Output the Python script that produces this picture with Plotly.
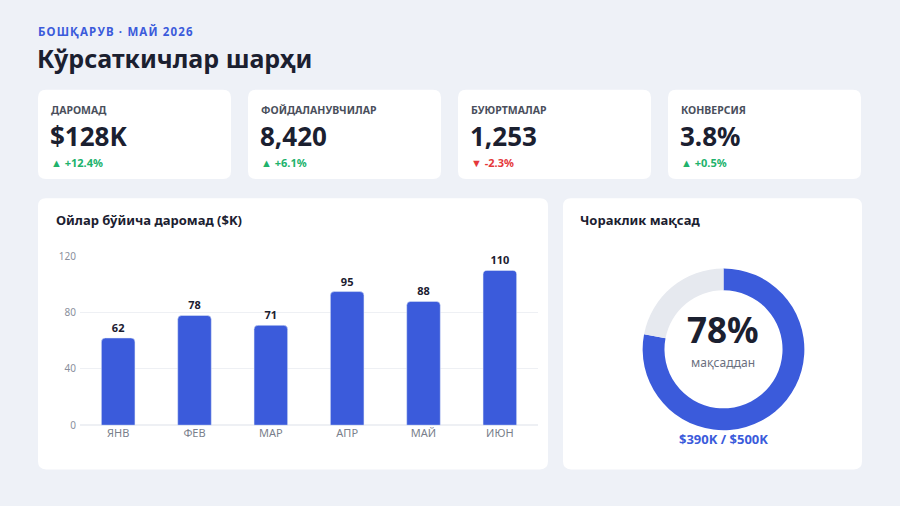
import plotly.graph_objects as go

W, H = 900, 489
OFF, SY = 7.7, 0.967  # observed vertical placement of the page in the photo

# ---- data ----
months = ["ЯНВ", "ФЕВ", "МАР", "АПР", "МАЙ", "ИЮН"]
revenue = [62, 78, 71, 95, 88, 110]
y_ticks = [0, 40, 80, 120]

kpi_labels = ["ДАРОМАД", "ФОЙДАЛАНУВЧИЛАР", "БУЮРТМАЛАР", "КОНВЕРСИЯ"]
kpi_values = ["$128K", "8,420", "1,253", "3.8%"]
kpi_deltas = ["▲ +12.4%", "▲ +6.1%", "▼ -2.3%", "▲ +0.5%"]
kpi_up = [True, True, False, True]

goal_done = 390
goal_total = 500
goal_pct = 78

BLUE = "#3B5BDB"
DARK = "#1B2030"
GRAY = "#6B7080"
GREEN = "#20B26B"
RED = "#E5383B"
BG = "#EEF1F7"
FONT = "Noto Sans"


def px(x):
    return x / W


def py(y):
    return 1 - ((y - OFF) / SY) / H


def rrect(x0, y0, x1, y1, r):
    X0, X1 = px(x0), px(x1)
    Y0, Y1 = py(y0), py(y1)
    rx, ry = r / W, r / SY / H
    return (f"M {X0+rx},{Y0} L {X1-rx},{Y0} Q {X1},{Y0} {X1},{Y0-ry} "
            f"L {X1},{Y1+ry} Q {X1},{Y1} {X1-rx},{Y1} "
            f"L {X0+rx},{Y1} Q {X0},{Y1} {X0},{Y1+ry} "
            f"L {X0},{Y0-ry} Q {X0},{Y0} {X0+rx},{Y0} Z")


fig = go.Figure()

fig.add_trace(go.Bar(
    x=months, y=revenue,
    marker=dict(color=BLUE, cornerradius=4),
    width=0.44,
    text=[str(v) for v in revenue], textposition="outside",
    textfont=dict(family=FONT, size=11, color=DARK, weight="bold"),
    cliponaxis=False, hoverinfo="skip", xaxis="x", yaxis="y",
))

fig.add_trace(go.Pie(
    values=[goal_done, goal_total - goal_done],
    marker=dict(colors=[BLUE, "#E6E9EF"]),
    hole=0.73, sort=False, direction="clockwise", rotation=0,
    textinfo="none", hoverinfo="skip", showlegend=False,
    domain=dict(x=[px(642), px(805)], y=[py(428), py(267)]),
))

shapes = []
card_x = [38, 248, 458, 668]
for cx in card_x:
    shapes.append(dict(type="path", xref="paper", yref="paper",
                       path=rrect(cx, 89, cx + 193, 178, 8),
                       fillcolor="white", line=dict(width=0), layer="below"))
shapes.append(dict(type="path", xref="paper", yref="paper",
                   path=rrect(38, 197, 548, 467, 8),
                   fillcolor="white", line=dict(width=0), layer="below"))
shapes.append(dict(type="path", xref="paper", yref="paper",
                   path=rrect(563, 197, 862, 467, 8),
                   fillcolor="white", line=dict(width=0), layer="below"))

ann = []


def text(x, y, s, size, color, bold=False, xanchor="left"):
    ann.append(dict(x=px(x), y=py(y), xref="paper", yref="paper", text=s,
                    showarrow=False, xanchor=xanchor, yanchor="middle",
                    font=dict(family=FONT, size=size, color=color,
                              weight="bold" if bold else "normal")))


header = "\u200a".join("БОШҚАРУВ · МАЙ 2026")
text(36, 31, header, 11.5, BLUE, True)
text(35, 57, "Кўрсаткичлар шарҳи", 25, DARK, True)

for i, cx in enumerate(card_x):
    text(cx + 11, 109, kpi_labels[i], 10.5, "#4A4F5C", True)
    text(cx + 10, 135, kpi_values[i], 26, DARK, True)
    text(cx + 11, 162, kpi_deltas[i], 11, GREEN if kpi_up[i] else RED, True)

text(54, 219, "Ойлар бўйича даромад ($K)", 13, DARK, True)
text(578, 219, "Чораклик мақсад", 13, DARK, True)

text(723, 328, f"{goal_pct}%", 35, DARK, True, "center")
text(723, 361, "мақсаддан", 12, GRAY, False, "center")
text(723, 437, f"${goal_done}K / ${goal_total}K", 13, BLUE, True, "center")

fig.update_layout(
    width=W, height=H,
    margin=dict(l=0, r=0, t=0, b=0),
    paper_bgcolor=BG, plot_bgcolor="rgba(0,0,0,0)",
    showlegend=False,
    shapes=shapes, annotations=ann,
    font=dict(family=FONT),
    xaxis=dict(domain=[px(80), px(538)], showgrid=False, zeroline=False,
               showline=False, ticks="",
               tickfont=dict(family=FONT, size=11, color="#7A7F8C")),
    yaxis=dict(domain=[py(423), py(255)], range=[0, 120],
               tickvals=y_ticks, showgrid=True, gridcolor="#EEF0F4",
               zeroline=True, zerolinecolor="#EEF0F4", showline=False,
               ticks="", ticklabelstandoff=3,
               tickfont=dict(family=FONT, size=10, color="#8A8F9C")),
)

fig.write_html("out.html", config={"displayModeBar": False},
               post_script="document.body.style.margin='0';"
                           "document.body.style.overflow='hidden';"
                           "document.documentElement.style.background='" + BG + "';"
                           "document.body.style.background='" + BG + "';")
